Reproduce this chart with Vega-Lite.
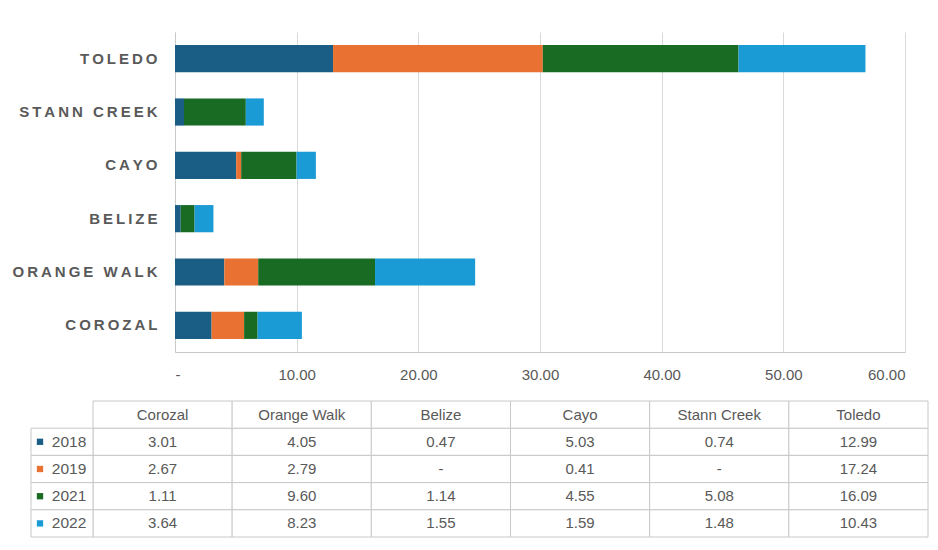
{
  "$schema": "https://vega.github.io/schema/vega-lite/v6.json",
  "background": "white",
  "padding": {"left": 11, "top": 32, "right": 0, "bottom": 0},
  "spacing": 18,
  "config": {
    "view": {"stroke": null},
    "font": "Liberation Sans",
    "text": {"font": "Liberation Sans", "fontSize": 15, "color": "#595959"}
  },
  "datasets": {
    "cells": [
      {"district": "Corozal", "year": "2018", "value": 3.01},
      {"district": "Orange Walk", "year": "2018", "value": 4.05},
      {"district": "Belize", "year": "2018", "value": 0.47},
      {"district": "Cayo", "year": "2018", "value": 5.03},
      {"district": "Stann Creek", "year": "2018", "value": 0.74},
      {"district": "Toledo", "year": "2018", "value": 12.99},
      {"district": "Corozal", "year": "2019", "value": 2.67},
      {"district": "Orange Walk", "year": "2019", "value": 2.79},
      {"district": "Belize", "year": "2019", "value": 0},
      {"district": "Cayo", "year": "2019", "value": 0.41},
      {"district": "Stann Creek", "year": "2019", "value": 0},
      {"district": "Toledo", "year": "2019", "value": 17.24},
      {"district": "Corozal", "year": "2021", "value": 1.11},
      {"district": "Orange Walk", "year": "2021", "value": 9.60},
      {"district": "Belize", "year": "2021", "value": 1.14},
      {"district": "Cayo", "year": "2021", "value": 4.55},
      {"district": "Stann Creek", "year": "2021", "value": 5.08},
      {"district": "Toledo", "year": "2021", "value": 16.09},
      {"district": "Corozal", "year": "2022", "value": 3.64},
      {"district": "Orange Walk", "year": "2022", "value": 8.23},
      {"district": "Belize", "year": "2022", "value": 1.55},
      {"district": "Cayo", "year": "2022", "value": 1.59},
      {"district": "Stann Creek", "year": "2022", "value": 1.48},
      {"district": "Toledo", "year": "2022", "value": 10.43}
    ],
    "districts": [
      {"district": "Corozal"},
      {"district": "Orange Walk"},
      {"district": "Belize"},
      {"district": "Cayo"},
      {"district": "Stann Creek"},
      {"district": "Toledo"}
    ],
    "years": [
      {"year": "2018"},
      {"year": "2019"},
      {"year": "2021"},
      {"year": "2022"}
    ]
  },
  "vconcat": [
    {
      "width": 730,
      "height": 320,
      "data": {"name": "cells"},
      "mark": {"type": "bar"},
      "encoding": {
        "y": {
          "field": "district",
          "type": "nominal",
          "sort": ["Toledo", "Stann Creek", "Cayo", "Belize", "Orange Walk", "Corozal"],
          "scale": {"paddingInner": 0.49, "paddingOuter": 0.245},
          "axis": {
            "title": null,
            "ticks": false,
            "domain": true,
            "domainColor": "#c8c8c8",
            "labelFont": "Liberation Sans",
            "labelFontSize": 15,
            "labelFontWeight": "bold",
            "labelColor": "#595959",
            "labelPadding": 18,
            "labelLimit": 400,
            "labelExpr": "join(split(upper(datum.label),''),'\u2009')"
          }
        },
        "x": {
          "field": "value",
          "type": "quantitative",
          "stack": "zero",
          "scale": {"domain": [0, 60], "nice": false},
          "axis": {
            "title": null,
            "values": [0, 10, 20, 30, 40, 50, 60],
            "labelExpr": "datum.value == 0 ? '-' : format(datum.value, '.2f')",
            "grid": true,
            "gridColor": "#d9d9d9",
            "domainColor": "#c8c8c8",
            "ticks": false,
            "labelFont": "Liberation Sans",
            "labelFontSize": 15,
            "labelColor": "#595959",
            "labelPadding": 15
          }
        },
        "color": {
          "field": "year",
          "type": "nominal",
          "scale": {"domain": ["2018", "2019", "2021", "2022"], "range": ["#1a5e86", "#e97132", "#196b24", "#1a9bd6"]},
          "legend": null
        },
        "order": {"field": "year", "type": "nominal", "sort": "ascending"}
      }
    },
    {
      "width": 730,
      "height": 136,
      "layer": [
        {
          "data": {"name": "cells"},
          "mark": {"type": "rect", "fill": "white", "stroke": "#c8c8c8", "strokeWidth": 1},
          "encoding": {
            "x": {"field": "district", "type": "nominal", "scale": {"domain": ["Corozal", "Orange Walk", "Belize", "Cayo", "Stann Creek", "Toledo"], "range": [-82, 753], "paddingInner": 0, "paddingOuter": 0}, "axis": null},
            "y": {"field": "year", "type": "nominal", "scale": {"domain": ["hdr", "2018", "2019", "2021", "2022"], "paddingInner": 0, "paddingOuter": 0}, "axis": null}
          }
        },
        {
          "data": {"name": "districts"},
          "mark": {"type": "rect", "fill": "white", "stroke": "#c8c8c8", "strokeWidth": 1},
          "encoding": {
            "x": {"field": "district", "type": "nominal", "scale": {"domain": ["Corozal", "Orange Walk", "Belize", "Cayo", "Stann Creek", "Toledo"], "range": [-82, 753], "paddingInner": 0, "paddingOuter": 0}, "axis": null},
            "y": {"datum": "hdr", "type": "nominal"}
          }
        },
        {
          "data": {"name": "cells"},
          "mark": {"type": "text", "font": "Liberation Sans", "fontSize": 15, "color": "#595959"},
          "encoding": {
            "x": {"field": "district", "type": "nominal", "scale": {"domain": ["Corozal", "Orange Walk", "Belize", "Cayo", "Stann Creek", "Toledo"], "range": [-82, 753], "paddingInner": 0, "paddingOuter": 0}, "axis": null},
            "y": {"field": "year", "type": "nominal"},
            "text": {"condition": {"test": "datum.value == 0", "value": "-"}, "field": "value", "type": "quantitative", "format": ".2f"}
          }
        },
        {
          "data": {"name": "districts"},
          "mark": {"type": "text", "font": "Liberation Sans", "fontSize": 15, "color": "#595959"},
          "encoding": {
            "x": {"field": "district", "type": "nominal", "scale": {"domain": ["Corozal", "Orange Walk", "Belize", "Cayo", "Stann Creek", "Toledo"], "range": [-82, 753], "paddingInner": 0, "paddingOuter": 0}, "axis": null},
            "y": {"datum": "hdr", "type": "nominal"},
            "text": {"field": "district", "type": "nominal"}
          }
        },
        {
          "data": {"name": "years"},
          "mark": {"type": "rect", "fill": "white", "stroke": "#c8c8c8", "strokeWidth": 1},
          "encoding": {
            "x": {"datum": "h", "type": "nominal", "scale": {"domain": ["h"], "range": [-144, -82], "paddingInner": 0, "paddingOuter": 0}, "axis": null},
            "y": {"field": "year", "type": "nominal"}
          }
        },
        {
          "data": {"name": "years"},
          "mark": {"type": "square", "size": 40, "filled": true, "opacity": 1, "xOffset": -22},
          "encoding": {
            "x": {"datum": "h", "type": "nominal", "scale": {"domain": ["h"], "range": [-144, -82], "paddingInner": 0, "paddingOuter": 0}, "axis": null},
            "y": {"field": "year", "type": "nominal"},
            "color": {"field": "year", "type": "nominal", "legend": null}
          }
        },
        {
          "data": {"name": "years"},
          "mark": {"type": "text", "font": "Liberation Sans", "fontSize": 15.5, "color": "#595959", "xOffset": 7},
          "encoding": {
            "x": {"datum": "h", "type": "nominal", "scale": {"domain": ["h"], "range": [-144, -82], "paddingInner": 0, "paddingOuter": 0}, "axis": null},
            "y": {"field": "year", "type": "nominal"},
            "text": {"field": "year", "type": "nominal"}
          }
        }
      ],
      "resolve": {"scale": {"x": "independent"}}
    }
  ]
}
